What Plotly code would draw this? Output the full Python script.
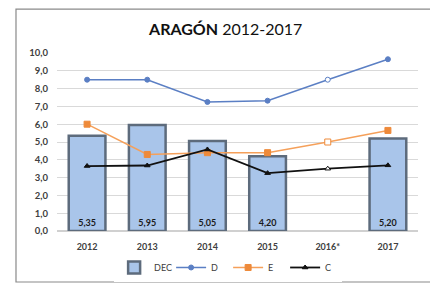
import plotly.graph_objects as go

years = ["2012", "2013", "2014", "2015", "2016*", "2017"]
dec = [5.35, 5.95, 5.05, 4.20, None, 5.20]
d_vals = [8.5, 8.5, 7.25, 7.32, 8.5, 9.65]
e_vals = [6.0, 4.3, 4.4, 4.4, 5.0, 5.65]
c_vals = [3.65, 3.68, 4.58, 3.25, 3.5, 3.69]
y_ticks = [0, 1, 2, 3, 4, 5, 6, 7, 8, 9, 10]

FONT = "Lato"
hollow = [i == 4 for i in range(len(years))]

def mfill(color):
    return ["white" if h else color for h in hollow]

fig = go.Figure()
fig.add_trace(go.Bar(
    x=years, y=dec, name="DEC", width=0.61,
    marker=dict(color="#a9c5ea", line=dict(color="#5d6b7c", width=2.5)),
    texttemplate="%{y:.2f}", textposition="inside", insidetextanchor="start",
    textfont=dict(family=FONT, size=9, color="#1a1a1a", weight="bold"),
    textangle=0,
))
fig.add_trace(go.Scatter(
    x=years, y=d_vals, name="D", mode="lines+markers",
    line=dict(color="#5b7fc4", width=1.5),
    marker=dict(symbol="circle", size=5, color=mfill("#5b7fc4"), line=dict(color="#5b7fc4", width=1)),
))
fig.add_trace(go.Scatter(
    x=years, y=e_vals, name="E", mode="lines+markers",
    line=dict(color="#f5a05a", width=1.5),
    marker=dict(symbol="square", size=6, color=mfill("#ee8a3a"), line=dict(color="#ee8a3a", width=1)),
))
fig.add_trace(go.Scatter(
    x=years, y=c_vals, name="C", mode="lines+markers",
    line=dict(color="#111111", width=1.8),
    marker=dict(symbol="triangle-up", size=5, color=mfill("#111111"), line=dict(color="#111111", width=1)),
))

fig.update_layout(
    width=438, height=284,
    margin=dict(l=49, r=28, t=45, b=61, autoexpand=False),
    paper_bgcolor="white", plot_bgcolor="white",
    separators=",.",
    font=dict(family=FONT, size=9, color="#404040"),
    title=dict(
        text="<b>ARAGÓN</b> 2012-2017",
        x=0.497, xanchor="center", y=0.923, yanchor="middle",
        font=dict(family=FONT, size=16, color="#111111"),
    ),
    showlegend=True,
    legend=dict(
        orientation="h", x=0.474, xanchor="center", y=-0.205, yanchor="middle",
        font=dict(family=FONT, size=9, color="#404040"),
        itemwidth=30, tracegroupgap=0, entrywidth=12, entrywidthmode="pixels",
    ),
    bargap=0.39,
    shapes=[dict(
        type="rect", xref="paper", yref="paper",
        x0=-0.1136, x1=1.0443, y0=-0.2865, y1=1.247,
        line=dict(color="#8a8a8a", width=1.2), fillcolor="rgba(0,0,0,0)", layer="below",
    )],
)
fig.update_xaxes(
    type="category", showgrid=False, showline=False, ticks="", ticklabelstandoff=9,
    tickfont=dict(family=FONT, size=9, color="#404040", weight="bold"),
)
fig.update_yaxes(
    range=[0, 10], tickvals=y_ticks, tickformat=".1f",
    showgrid=True, gridcolor="#d9d9d9", gridwidth=1, zeroline=True, zerolinecolor="#d0d0d0",
    showline=False, ticks="", ticklabelstandoff=8,
    tickfont=dict(family=FONT, size=9.5, color="#404040", weight="bold"),
)

fig.write_html("out.html")
